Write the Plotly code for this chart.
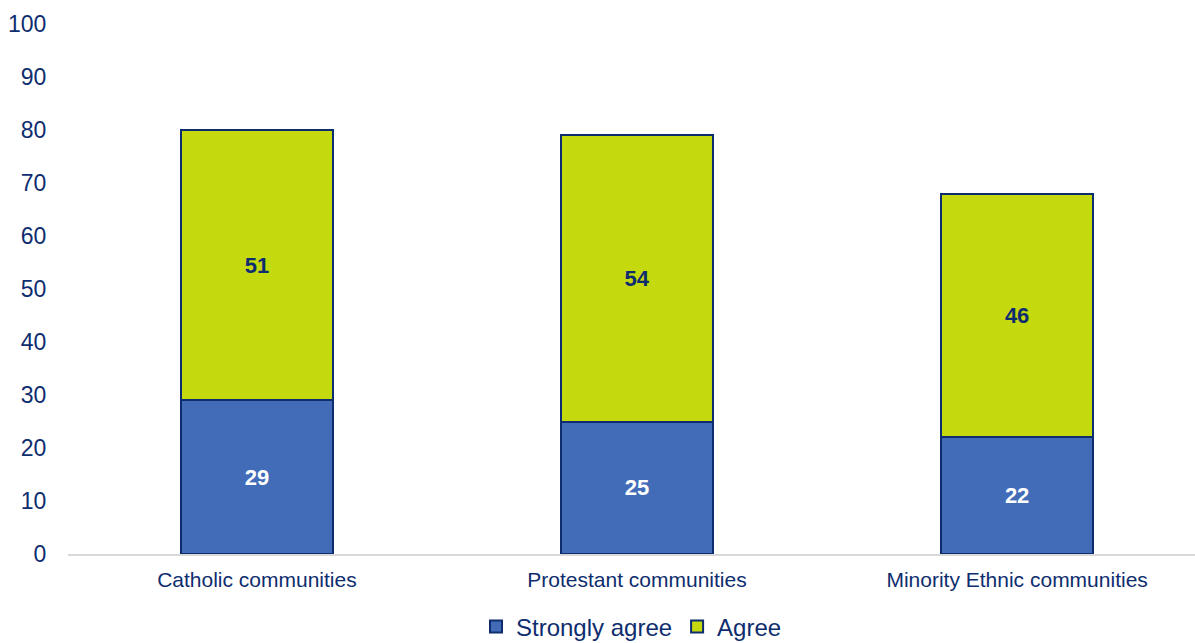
import plotly.graph_objects as go

categories = ["Catholic communities", "Protestant communities", "Minority Ethnic communities"]
strongly_agree = [29, 25, 22]
agree = [51, 54, 46]
y_ticks = [0, 10, 20, 30, 40, 50, 60, 70, 80, 90, 100]

NAVY = "#0e2d6e"
BLUE = "#426cb8"
GREEN = "#c5d90f"
FONT = "Liberation Sans, Arial, sans-serif"

fig = go.Figure()
fig.add_trace(go.Bar(
    name="Strongly agree", x=categories, y=strongly_agree,
    marker=dict(color=BLUE, line=dict(color=NAVY, width=2)),
    text=strongly_agree, textposition="inside", insidetextanchor="middle",
    textfont=dict(color="white", size=22, family=FONT, weight="bold"),
    width=0.40,
))
fig.add_trace(go.Bar(
    name="Agree", x=categories, y=agree,
    marker=dict(color=GREEN, line=dict(color=NAVY, width=2)),
    text=agree, textposition="inside", insidetextanchor="middle",
    textfont=dict(color=NAVY, size=22, family=FONT, weight="bold"),
    width=0.40,
))

fig.update_layout(
    barmode="stack",
    width=1195, height=643,
    margin=dict(l=68, r=0, t=24, b=89, autoexpand=False),
    plot_bgcolor="white", paper_bgcolor="white",
    font=dict(family=FONT, color=NAVY),
    showlegend=True,
    legend=dict(orientation="h", x=0.5, xanchor="center", y=-0.095, yanchor="top",
                font=dict(size=24, color=NAVY), traceorder="normal",
                itemwidth=30, tracegroupgap=0),
    uniformtext=dict(mode=False),
    xaxis=dict(range=[-0.497, 2.468], showline=True, linecolor="#d9d9d9", linewidth=2,
               ticks="outside", ticklen=6, tickcolor="white",
               tickfont=dict(size=21, color=NAVY), showgrid=False, automargin=False),
    yaxis=dict(range=[0, 100], tickvals=y_ticks, showgrid=False, zeroline=False,
               showline=False, ticks="outside", ticklen=16, tickcolor="white",
               tickfont=dict(size=23, color=NAVY), automargin=False),
)

fig.write_html("out.html")
